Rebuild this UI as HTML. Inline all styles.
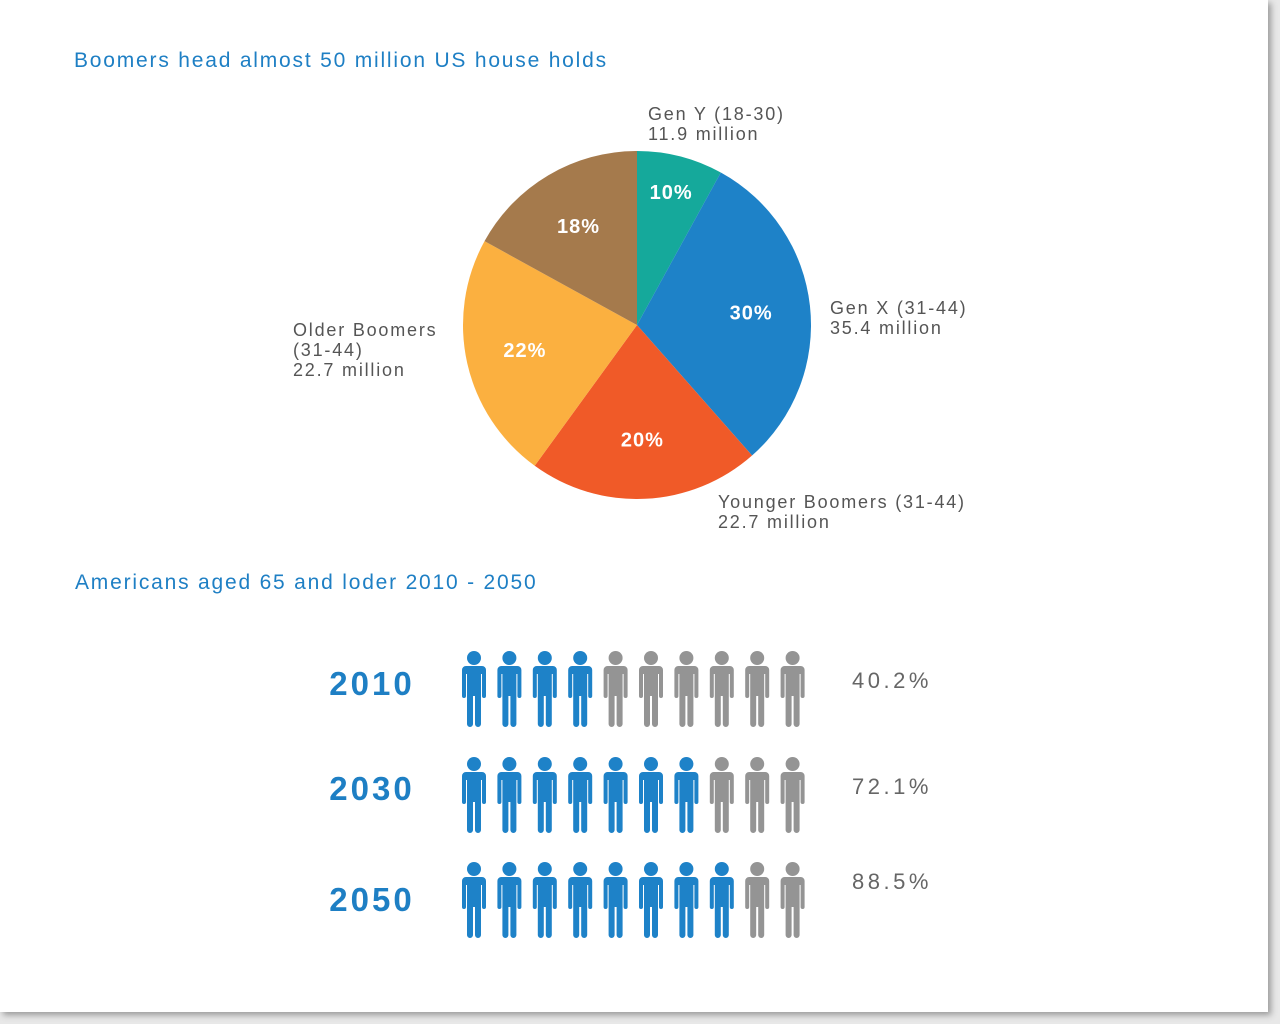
<!DOCTYPE html>
<html><head><meta charset="utf-8"><style>
body{margin:0;width:1280px;height:1024px;background:#e8e8e8;font-family:"Liberation Sans",sans-serif;overflow:hidden}
#page{position:absolute;left:0;top:0;width:1268px;height:1012px;background:#fff;box-shadow:3px 3px 6px #999}
.t{position:absolute;white-space:nowrap}
.h{color:#1e7fc4;font-size:21px;letter-spacing:1.8px}
.lab{color:#555;font-size:18px;line-height:20px;letter-spacing:1.8px}
</style></head><body>
<div id="page">
<div class="t h" style="left:74px;top:49px">Boomers head almost 50 million US house holds</div>
<svg id="pie" width="1268" height="560" style="position:absolute;left:0;top:0"></svg>
<div class="t lab" style="left:648px;top:104px">Gen Y (18-30)<br>11.9 million</div>
<div class="t lab" style="left:830px;top:298px">Gen X (31-44)<br>35.4 million</div>
<div class="t lab" style="left:718px;top:492px">Younger Boomers (31-44)<br>22.7 million</div>
<div class="t lab" style="left:293px;top:320px">Older Boomers<br>(31-44)<br>22.7 million</div>
<div class="t h" style="left:75px;top:571px">Americans aged 65 and loder 2010 - 2050</div>
<svg id="picto" width="1268" height="420" style="position:absolute;left:0;top:600px"></svg>
</div>
<script>
const sliceNames=['gen-y','gen-x','younger-boomers','older-boomers','older-gen'];
const sliceValues=[8,30.5,21.5,23,17];
const sliceLabels=['10%','30%','20%','22%','18%'];
const sliceColors=['#15a99b','#1e82c8','#f05a28','#fbb040','#a57a4c'];
const years=['2010','2030','2050'];
const percents=[40.2,72.1,88.5];
const pctLabels=['40.2%','72.1%','88.5%'];
const NS='http://www.w3.org/2000/svg';
const pie=document.getElementById('pie');
const cx=637,cy=325,r=174;
const total=sliceValues.reduce((a,b)=>a+b,0);
let a0=0;
function pt(a,rr){return [cx+rr*Math.sin(a),cy-rr*Math.cos(a)];}
sliceValues.forEach((v,i)=>{
 const a1=a0+v/total*2*Math.PI;
 const p0=pt(a0,r),p1=pt(a1,r);
 const path=document.createElementNS(NS,'path');
 path.setAttribute('d',`M${cx},${cy}L${p0[0]},${p0[1]}A${r},${r} 0 ${a1-a0>Math.PI?1:0} 1 ${p1[0]},${p1[1]}Z`);
 path.setAttribute('fill',sliceColors[i]);
 
 
 pie.appendChild(path);
 const m=(a0+a1)/2,lp=pt(m,r*(v<10?0.79:0.66));
 const tx=document.createElementNS(NS,'text');
 tx.setAttribute('x',lp[0]);tx.setAttribute('y',lp[1]+7);
 tx.setAttribute('text-anchor','middle');tx.setAttribute('fill','#fff');
 tx.setAttribute('font-size','20');tx.setAttribute('font-weight','bold');
 tx.setAttribute('letter-spacing','1');
 tx.setAttribute('font-family','Liberation Sans, sans-serif');
 tx.textContent=sliceLabels[i];
 
 
 pie.appendChild(tx);
 a0=a1;
});
const pg=document.getElementById('picto');
const rowTops=[51,157,262];
const yearDy=[44,43,49];
const pctDy=[37,37,27];
function person(x,y,col){
 const g=document.createElementNS(NS,'g');
 g.setAttribute('fill',col);
 g.innerHTML=`<circle cx="${x}" cy="${y+7}" r="7"/>
 <path d="M${x-8},${y+15} h16 a4,4 0 0 1 4,4 v26 a2,2 0 0 1 -4,0 v-22 h-1 v50 a3,3 0 0 1 -6,0 v-28 h-2 v28 a3,3 0 0 1 -6,0 v-50 h-1 v22 a2,2 0 0 1 -4,0 v-26 a4,4 0 0 1 4,-4z"/>`;
 return g;
}
years.forEach((yr,i)=>{
 const rowTop=rowTops[i];
 const t=document.createElementNS(NS,'text');
 t.setAttribute('x',372);t.setAttribute('y',rowTop+yearDy[i]);t.setAttribute('text-anchor','middle');
 t.setAttribute('fill','#1e7fc4');t.setAttribute('font-size','33');t.setAttribute('font-weight','bold');
 t.setAttribute('letter-spacing','3');
 t.setAttribute('font-family','Liberation Sans, sans-serif');
 t.textContent=yr;
 
 
 pg.appendChild(t);
 const blue=Math.floor(percents[i]/10);
 for(let k=0;k<10;k++){
  const g=person(474+k*35.4,rowTop,k<blue?'#1e82c8':'#949494');
  
  
  pg.appendChild(g);
 }
 const p=document.createElementNS(NS,'text');
 p.setAttribute('x',852);p.setAttribute('y',rowTop+pctDy[i]);
 p.setAttribute('fill','#666');p.setAttribute('font-size','22');
 p.setAttribute('letter-spacing','3.5');
 p.setAttribute('font-family','Liberation Sans, sans-serif');
 p.textContent=pctLabels[i];
 
 
 pg.appendChild(p);
});
</script>
</body></html>
